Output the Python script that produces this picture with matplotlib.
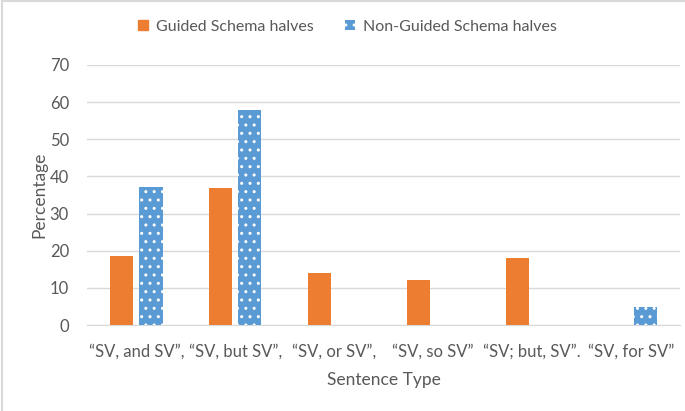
import matplotlib as ml
ml.use('Agg')
import numpy as np
import matplotlib.pyplot as plt
from matplotlib.lines import Line2D

plt.rcParams['font.family'] = ['Lato', 'DejaVu Sans']
plt.rcParams['hatch.color'] = 'white'
plt.rcParams['hatch.linewidth'] = 1.0

# Data
categories = ['\u201cSV, and SV\u201d,', '\u201cSV, but SV\u201d,', '\u201cSV, or SV\u201d,',
              '\u201cSV, so SV\u201d', '\u201cSV; but, SV\u201d.', '\u201cSV, for SV\u201d']
guided = [18.6, 37.0, 14.0, 12.1, 18.1, 0]
non_guided = [37.1, 58.0, 0, 0, 0, 4.9]
yticks = [0, 10, 20, 30, 40, 50, 60, 70]

orange = '#ED7D31'
blue = '#5B9BD5'
txt = '#595959'
grid = '#D9D9D9'

fig = plt.figure(figsize=(6.85, 4.11), dpi=100)
ax = fig.add_axes([0.127, 0.209, 0.866, 0.633])

x = np.arange(len(categories))
w = 0.235
gap = 0.03
ax.bar(x - w / 2 - gap, guided, width=w, color=orange, edgecolor='none', zorder=3)
ax.bar(x + w / 2 + gap, non_guided, width=w, color=blue, edgecolor='white',
       hatch='..', linewidth=0, zorder=3)

ax.set_ylim(0, 70)
ax.set_xlim(-0.5, len(categories) - 0.5)
ax.set_yticks(yticks)
ax.set_xticks(x)
ax.set_xticklabels(categories)
ax.yaxis.grid(True, color=grid, linewidth=1)
ax.set_axisbelow(True)
for s in ['top', 'right', 'left']:
    ax.spines[s].set_visible(False)
ax.spines['bottom'].set_color(grid)
ax.tick_params(axis='both', length=0, colors=txt, labelsize=12)
ax.tick_params(axis='x', pad=13)
ax.tick_params(axis='y', pad=13)
ax.set_ylabel('Percentage', color=txt, fontsize=12.5, labelpad=2)
ax.set_xlabel('Sentence Type', color=txt, fontsize=12.5, labelpad=9)

handles = [plt.Rectangle((0, 0), 1, 1, color=orange),
           plt.Rectangle((0, 0), 1, 1, facecolor=blue, edgecolor='white', hatch='..', linewidth=0)]
fig.legend(handles, ['Guided Schema halves', 'Non-Guided Schema halves'], loc='center',
           bbox_to_anchor=(0.507, 0.935), ncol=2, frameon=False, fontsize=11.5,
           labelcolor=txt, handlelength=0.6, handleheight=0.6, columnspacing=2.0,
           handletextpad=0.5)

# chart border on top and left edges
fig.add_artist(Line2D([0.003, 0.003], [0, 0.997], color=grid, linewidth=1.5))
fig.add_artist(Line2D([0.003, 1], [0.997, 0.997], color=grid, linewidth=1.5))

fig.savefig('out.png', dpi=100)
